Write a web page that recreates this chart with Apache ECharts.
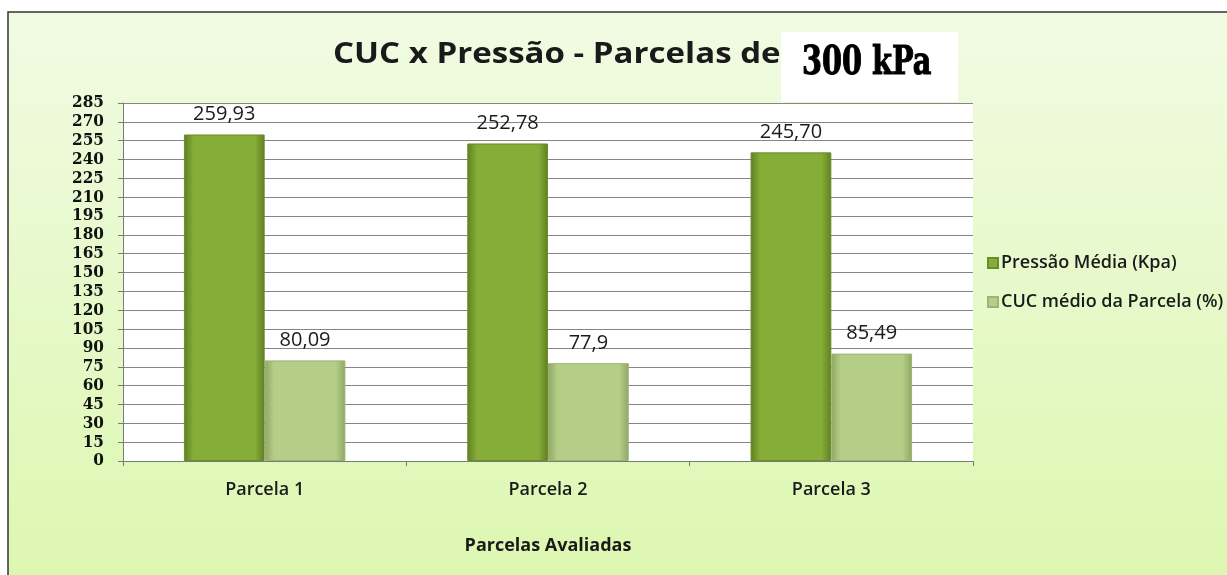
<!DOCTYPE html>
<html>
<head>
<meta charset="utf-8">
<script src="https://cdn.jsdelivr.net/npm/echarts@6/dist/echarts.min.js"></script>
<style>
  html, body { margin: 0; padding: 0; background: #fff; }
  #chart { width: 1227px; height: 575px; }
</style>
</head>
<body>
<div id="chart"></div>
<script>
// dados
var categorias = ['Parcela 1', 'Parcela 2', 'Parcela 3'];
var pressaoMedia = [259.93, 252.78, 245.70];
var pressaoRotulos = ['259,93', '252,78', '245,70'];
var cucMedio = [80.09, 77.9, 85.49];
var cucRotulos = ['80,09', '77,9', '85,49'];
var nomesSeries = ['Pressão Média (Kpa)', 'CUC médio da Parcela (%)'];

var chart = echarts.init(document.getElementById('chart'));

function barGrad(edge, mid) {
  return new echarts.graphic.LinearGradient(0, 0, 1, 0, [
    {offset: 0, color: edge},
    {offset: 0.12, color: mid},
    {offset: 0.88, color: mid},
    {offset: 1, color: edge}
  ]);
}

var fonte = '"Open Sans", Lato, sans-serif';

var option = {
  animation: false,
  backgroundColor: '#ffffff',
  graphic: [
    {
      type: 'rect', z: -10, silent: true,
      shape: {x: 8, y: 12, width: 1240, height: 600},
      style: {
        fill: new echarts.graphic.LinearGradient(0, 0, 0, 1, [
          {offset: 0, color: '#f1fbe3'},
          {offset: 1, color: '#dbf7ad'}
        ]),
        stroke: '#333', lineWidth: 1.5
      }
    },
    {
      type: 'text', x: 333, y: 55, z: 10, scaleX: 1.14,
      style: {
        text: 'CUC x Pressão - Parcelas de',
        font: 'bold 29px ' + fonte,
        fill: '#1a1a1a',
        verticalAlign: 'middle'
      }
    },
    {
      type: 'rect', z: 11,
      shape: {x: 781, y: 32, width: 177, height: 70},
      style: {fill: '#ffffff'}
    },
    {
      type: 'text', x: 802, y: 64, z: 12, scaleX: 0.8,
      style: {
        text: '300 kPa',
        font: 'bold 40px "DejaVu Serif Condensed", "DejaVu Serif", serif',
        fill: '#000',
        stroke: '#000', lineWidth: 1,
        verticalAlign: 'middle'
      }
    }
  ],
  legend: {
    orient: 'vertical',
    left: 982,
    top: 247,
    itemWidth: 10,
    itemHeight: 10,
    itemGap: 17,
    icon: 'rect',
    data: nomesSeries,
    textStyle: {fontFamily: fonte, fontSize: 18, fontWeight: 600, color: '#1a1a1a', lineHeight: 22, padding: [0, 0, 0, -2]}
  },
  grid: {
    left: 123, right: 254, top: 103, bottom: 114,
    show: true, backgroundColor: '#ffffff', borderWidth: 0
  },
  xAxis: {
    type: 'category',
    data: categorias,
    name: 'Parcelas Avaliadas',
    nameLocation: 'middle',
    nameGap: 76,
    nameTextStyle: {fontFamily: fonte, fontSize: 18, fontWeight: 'bold', color: '#1a1a1a'},
    axisLine: {lineStyle: {color: '#7a7a7a', width: 1}},
    axisTick: {show: true, length: 5, lineStyle: {color: '#7a7a7a'}},
    axisLabel: {fontFamily: fonte, fontSize: 18, fontWeight: 600, color: '#1a1a1a', margin: 20}
  },
  yAxis: {
    type: 'value',
    min: 0, max: 285, interval: 15,
    axisLine: {show: true, lineStyle: {color: '#7a7a7a', width: 1}},
    axisTick: {show: true, length: 5, lineStyle: {color: '#7a7a7a'}},
    axisLabel: {
      fontFamily: '"DejaVu Serif Condensed", "DejaVu Serif", serif', fontWeight: 'bold', fontSize: 17,
      color: '#111', margin: 19
    },
    splitLine: {lineStyle: {color: '#858585', width: 1}}
  },
  series: [
    {
      name: nomesSeries[0],
      type: 'bar',
      data: pressaoMedia,
      barGap: '0%',
      barCategoryGap: '43%',
      itemStyle: {color: barGrad('#5f7f22', '#86ad37'), borderColor: '#6a8b2a', borderWidth: 1},
      label: {
        show: true, position: 'top', distance: 10,
        fontFamily: fonte, fontSize: 20, color: '#1a1a1a',
        formatter: function (p) { return pressaoRotulos[p.dataIndex]; }
      }
    },
    {
      name: nomesSeries[1],
      type: 'bar',
      data: cucMedio,
      itemStyle: {color: barGrad('#8fa766', '#b5ce87'), borderColor: '#9cb374', borderWidth: 1},
      label: {
        show: true, position: 'top', distance: 10,
        fontFamily: fonte, fontSize: 20, color: '#1a1a1a',
        formatter: function (p) { return cucRotulos[p.dataIndex]; }
      }
    }
  ]
};

chart.setOption(option);
</script>
</body>
</html>
